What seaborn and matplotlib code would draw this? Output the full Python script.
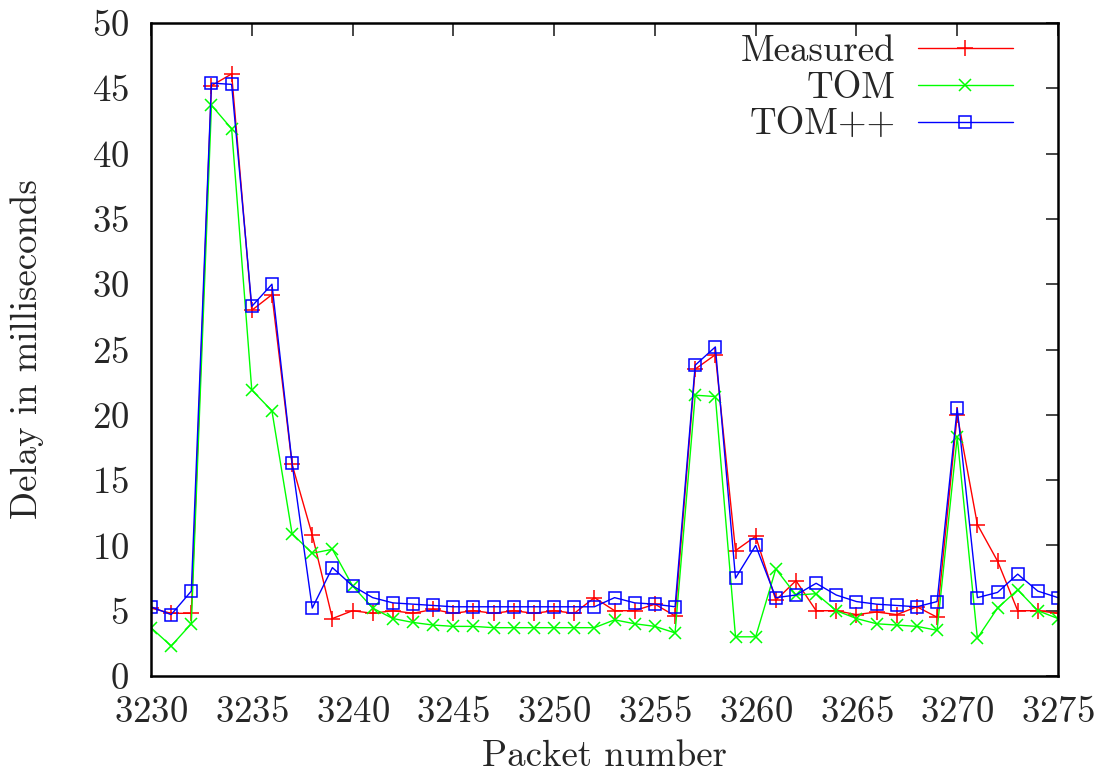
import numpy as np
import pandas as pd
import matplotlib
matplotlib.use("Agg")
import matplotlib.pyplot as plt
import seaborn as sns

packets = list(range(3230, 3276))
measured = [5.2, 4.8, 4.8, 45.2, 46.1, 28.0, 29.2, 16.2, 10.8, 4.4,
            5.0, 4.8, 5.0, 4.8, 5.1, 4.8, 5.0, 4.8, 5.0, 4.8,
            5.0, 4.8, 6.0, 5.0, 5.0, 5.5, 4.6, 23.5, 24.6, 9.6,
            10.7, 5.8, 7.3, 5.0, 5.0, 4.7, 4.9, 4.7, 5.3, 4.5,
            20.0, 11.6, 8.8, 5.0, 5.0, 4.8]
tom = [3.7, 2.3, 4.0, 43.7, 41.9, 21.9, 20.3, 10.9, 9.4, 9.7,
       6.9, 5.2, 4.4, 4.1, 3.9, 3.8, 3.8, 3.7, 3.7, 3.7,
       3.7, 3.7, 3.7, 4.3, 4.0, 3.8, 3.3, 21.5, 21.4, 3.0,
       3.0, 8.2, 6.2, 6.3, 5.0, 4.4, 4.0, 3.9, 3.8, 3.5,
       18.3, 2.9, 5.2, 6.6, 5.0, 4.4]
tompp = [5.3, 4.7, 6.5, 45.4, 45.3, 28.3, 30.0, 16.3, 5.2, 8.3,
         6.9, 6.0, 5.6, 5.5, 5.4, 5.3, 5.3, 5.3, 5.3, 5.3,
         5.3, 5.3, 5.3, 6.0, 5.6, 5.5, 5.3, 23.8, 25.2, 7.5,
         10.0, 6.0, 6.2, 7.1, 6.2, 5.7, 5.5, 5.4, 5.3, 5.7,
         20.5, 6.0, 6.4, 7.8, 6.5, 6.0]

df = pd.DataFrame({"packet": packets * 3,
                   "delay": measured + tom + tompp,
                   "series": ["Measured"] * 46 + ["TOM"] * 46 + ["TOM++"] * 46})

sns.set_style("white")
plt.rcParams["font.family"] = ["cmr10", "DejaVu Serif"]
plt.rcParams["axes.formatter.use_mathtext"] = True

fig = plt.figure(figsize=(11.07, 7.79), dpi=100)
ax = fig.add_axes([151 / 1107, 1 - 676 / 779, (1058 - 151) / 1107, (676 - 23) / 779])

palette = {"Measured": "#ff0000", "TOM": "#00ff00", "TOM++": "#0000ff"}
markers = {"Measured": "+", "TOM": "x", "TOM++": "s"}
sizes = {"Measured": 11, "TOM": 9, "TOM++": 9}
for name, sub in df.groupby("series"):
    sns.lineplot(data=sub, x="packet", y="delay", ax=ax, color=palette[name],
                 marker=markers[name], markersize=sizes[name],
                 markerfacecolor="none" if name == "TOM++" else palette[name],
                 markeredgecolor=palette[name], markeredgewidth=1.1,
                 linewidth=1.0, label=name)

ax.set_xlim(3230, 3275)
ax.set_ylim(0, 50)
ax.set_xticks(range(3230, 3276, 5))
ax.set_yticks(range(0, 51, 5))
ax.tick_params(direction="in", length=9, width=1.2, top=True, right=True,
               labelsize=26.5)
ax.tick_params(axis="x", pad=14)
ax.tick_params(axis="y", pad=16)
for s in ax.spines.values():
    s.set_linewidth(1.8)
    s.set_color("black")
ax.set_xlabel("Packet number", fontsize=26.5, labelpad=8)
ax.set_ylabel("Delay in milliseconds", fontsize=26.5, labelpad=34)

leg = ax.legend(loc="upper right", bbox_to_anchor=(0.967, 1.005), frameon=False,
                markerfirst=False, fontsize=26.5, handlelength=2.6,
                handletextpad=0.6, borderaxespad=0.0, labelspacing=0.1)
for t in leg.get_texts():
    t.set_ha("right")
leg._legend_box.align = "right"

fig.savefig("out.png", dpi=100)
